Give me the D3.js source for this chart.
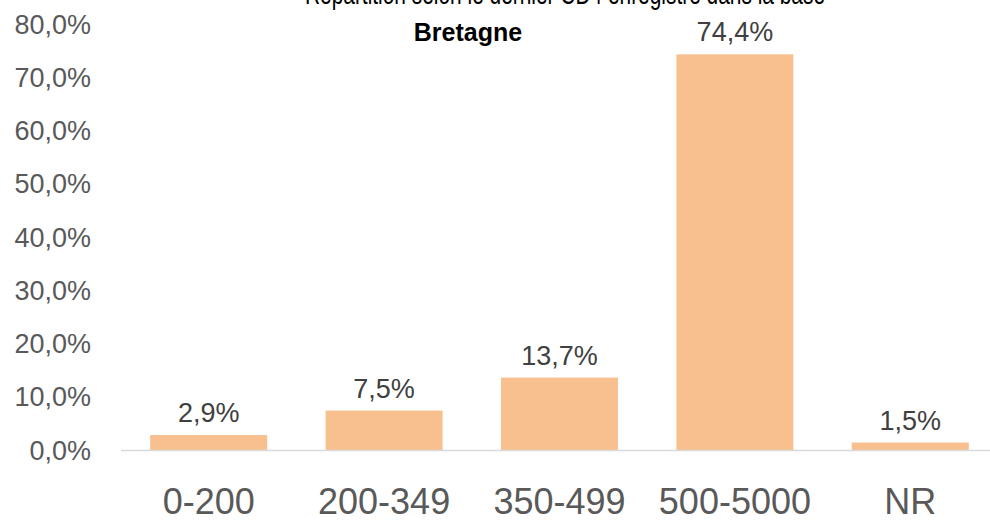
<!DOCTYPE html>
<html>
<head>
<meta charset="utf-8">
<script src="https://cdn.jsdelivr.net/npm/d3@7"></script>
<style>
  body { margin: 0; background: #fff; }
  svg { display: block; font-family: "Liberation Sans", Arial, sans-serif; }
</style>
</head>
<body>
<div id="chart"></div>
<script>
// chart data
var categories = ['0-200', '200-349', '350-499', '500-5000', 'NR'];
var values = [2.9, 7.5, 13.7, 74.4, 1.5];
var yTicks = [0, 10, 20, 30, 40, 50, 60, 70, 80];
var titleLines = ['Répartition selon le dernier CD4 enregistré dans la base', 'Bretagne'];

var width = 990, height = 523;
var svg = d3.select('#chart').append('svg')
  .attr('width', width)
  .attr('height', height);

// scales
var x = d3.scaleBand()
  .domain(categories)
  .range([121, 998])
  .paddingInner(0.333)
  .paddingOuter(0.1665);
var y = d3.scaleLinear()
  .domain([0, 80])
  .range([450.5, 24.5]);

var fmt = function(v) { return d3.format('.1f')(v).replace('.', ',') + '%'; };

// y axis labels (no line, no ticks)
var yAxis = d3.axisLeft(y)
  .tickValues(yTicks)
  .tickSize(0)
  .tickPadding(0)
  .tickFormat(fmt);
var gy = svg.append('g')
  .attr('transform', 'translate(91,0)')
  .call(yAxis);
gy.select('.domain').remove();
gy.selectAll('text')
  .attr('fill', '#595959')
  .style('font-size', '27px')
  .style('font-family', '"Liberation Sans", Arial, sans-serif');

// bars
svg.append('g').selectAll('rect')
  .data(values)
  .join('rect')
  .attr('x', function(d, i) { return x(categories[i]); })
  .attr('width', x.bandwidth())
  .attr('y', function(d) { return y(d); })
  .attr('height', function(d) { return y(0) - y(d); })
  .attr('fill', '#F9C08F');

// baseline
svg.append('line')
  .attr('x1', 121).attr('x2', 998)
  .attr('y1', y(0)).attr('y2', y(0))
  .attr('stroke', '#D9D9D9')
  .attr('stroke-width', 1.5);

// data labels
svg.append('g').selectAll('text')
  .data(values)
  .join('text')
  .attr('x', function(d, i) { return x(categories[i]) + x.bandwidth() / 2; })
  .attr('y', function(d) { return y(d) - 13; })
  .attr('text-anchor', 'middle')
  .attr('fill', '#404040')
  .style('font-size', '27px')
  .text(fmt);

// x axis labels
var xAxis = d3.axisBottom(x).tickSize(0).tickPadding(0);
var gx = svg.append('g')
  .attr('transform', 'translate(0,514)')
  .call(xAxis);
gx.select('.domain').remove();
gx.selectAll('text')
  .attr('fill', '#595959')
  .attr('dy', 0)
  .style('font-size', '36px')
  .style('font-family', '"Liberation Sans", Arial, sans-serif');

// title (first line is clipped at the top edge)
svg.append('text')
  .attr('x', 565)
  .attr('y', 4)
  .attr('text-anchor', 'middle')
  .attr('fill', '#000')
  .attr('textLength', 520)
  .attr('lengthAdjust', 'spacingAndGlyphs')
  .style('font-size', '30px')
  .text(titleLines[0]);
svg.append('text')
  .attr('x', 468)
  .attr('y', 41)
  .attr('text-anchor', 'middle')
  .attr('fill', '#000')
  .style('font-size', '25px')
  .style('font-weight', 'bold')
  .text(titleLines[1]);
</script>
</body>
</html>
